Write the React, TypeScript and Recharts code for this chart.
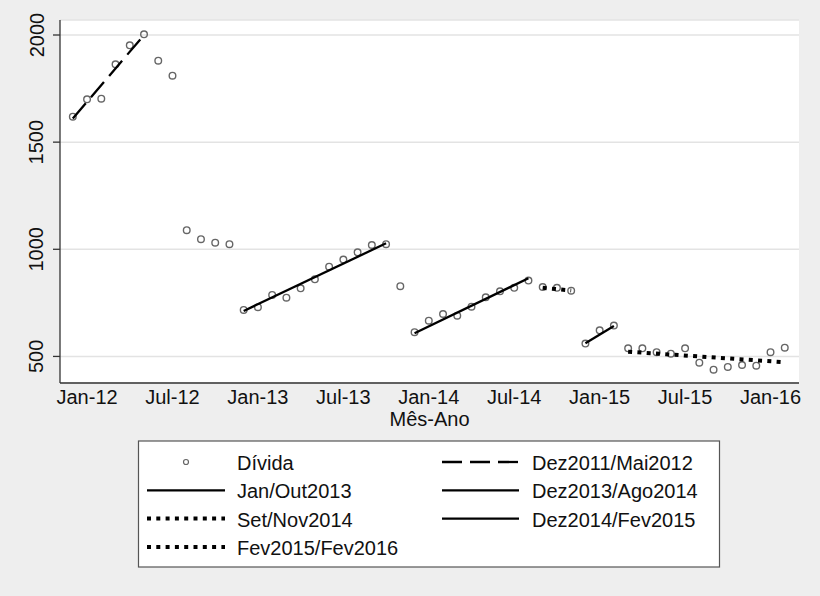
import React from 'react'
import {
  ComposedChart,
  Scatter,
  XAxis,
  YAxis,
  CartesianGrid,
} from 'recharts'

// Dívida mensal, Dez 2011 ... Fev 2016 (one value per month)
const divida = [
  1619, 1700, 1703, 1863, 1952, 2003, 1880, 1810, 1089, 1047, 1031, 1024,
  717, 730, 787, 774, 818, 860, 919, 952, 986, 1020, 1024, 828,
  613, 667, 698, 690, 732, 776, 804, 820, 854, 824, 820, 807,
  560, 622, 644, 538, 538, 520, 513, 538, 471, 438, 451, 460, 457, 520, 541,
]

const tickMonths = [1, 7, 13, 19, 25, 31, 37, 43, 49]
const tickLabels = ['Jan-12', 'Jul-12', 'Jan-13', 'Jul-13', 'Jan-14', 'Jul-14', 'Jan-15', 'Jul-15', 'Jan-16']
const yTicks = [500, 1000, 1500, 2000]

// fitted segments: first/last month index and fitted value there
const fitNames = ['Dez2011/Mai2012', 'Jan/Out2013', 'Dez2013/Ago2014', 'Set/Nov2014', 'Dez2014/Fev2015', 'Fev2015/Fev2016']
const fitMonths = [[0, 5], [12, 22], [24, 32], [33, 35], [36, 38], [39, 50]]
const fitValues = [[1610, 2000], [712, 1028], [608, 865], [820, 808], [562, 642], [522, 473]]

const FONT = '"Liberation Sans", Arial, Helvetica, sans-serif'
const DASHED = { strokeDasharray: '20 8', strokeWidth: 2.3 }
const SOLID = { strokeWidth: 2.3 }
const DOTTED = { strokeDasharray: '4 5.3', strokeWidth: 4 }
const fitStyles = [DASHED, SOLID, SOLID, DOTTED, SOLID, DOTTED]

const points = divida.map((v, i) => ({ t: i, v }))
const fits = fitMonths.map((m, i) => [
  { t: m[0], v: fitValues[i][0] },
  { t: m[1], v: fitValues[i][1] },
])

const XTick = (props: any) => {
  const idx = tickMonths.indexOf(props.payload.value)
  return (
    <text x={props.x} y={404} textAnchor="middle" fontSize={20} fill="#111" fontFamily={FONT}>
      {tickLabels[idx]}
    </text>
  )
}

const YTick = (props: any) => (
  <text
    x={43.5}
    y={props.y}
    transform={`rotate(-90 43.5 ${props.y})`}
    textAnchor="middle"
    fontSize={20}
    fill="#111"
    fontFamily={FONT}
  >
    {props.payload.value}
  </text>
)

const Circle = (props: any) => (
  <circle cx={props.cx} cy={props.cy} r={3.3} fill="none" stroke="#666" strokeWidth={1.4} />
)

const NoShape = () => <g />

// legend layout: [name, kind] in Stata order, two columns
const legendItems = [
  { name: 'Dívida', kind: 'point' },
  { name: fitNames[0], kind: 'dashed' },
  { name: fitNames[1], kind: 'solid' },
  { name: fitNames[2], kind: 'solid' },
  { name: fitNames[3], kind: 'dotted' },
  { name: fitNames[4], kind: 'solid' },
  { name: fitNames[5], kind: 'dotted' },
]

function LegendBox() {
  const colSym = [[147, 225], [442, 519]]
  const colText = [237, 532]
  return (
    <svg width={820} height={596} style={{ position: 'absolute', left: 0, top: 0 }}>
      <rect x={138.5} y={441} width={581} height={126} fill="#fff" stroke="#555" strokeWidth={1.2} />
      {legendItems.map((it, i) => {
        const col = i % 2
        const row = Math.floor(i / 2)
        const base = 470 + row * 28.3
        const sy = base - 8
        const [a, b] = colSym[col]
        let sym: React.ReactNode = null
        if (it.kind === 'point') {
          sym = <circle cx={(a + b) / 2} cy={sy} r={2.5} fill="none" stroke="#666" strokeWidth={1.2} />
        } else {
          const st = it.kind === 'dashed' ? DASHED : it.kind === 'dotted' ? DOTTED : SOLID
          sym = <line x1={a} x2={b} y1={sy} y2={sy} stroke="#000" {...st} />
        }
        return (
          <g key={it.name}>
            {sym}
            <text x={colText[col]} y={base} fontSize={20} fill="#111" fontFamily={FONT}>
              {it.name}
            </text>
          </g>
        )
      })}
    </svg>
  )
}

export default function App() {
  return (
    <div style={{ position: 'fixed', left: 0, top: 0, width: 820, height: 596, background: '#eeeeee' }}>
      <ComposedChart width={820} height={440} margin={{ top: 20, right: 21, left: 0, bottom: 0 }}>
        <CartesianGrid vertical={false} fill="#ffffff" stroke="#e3e3e3" strokeWidth={1.5} />
        <XAxis
          type="number"
          dataKey="t"
          domain={[-0.9, 51]}
          ticks={tickMonths}
          interval={0}
          allowDataOverflow
          tick={<XTick />}
          tickLine={false}
          axisLine={{ stroke: '#333', strokeWidth: 1.3 }}
          height={57}
          label={{ value: 'Mês-Ano', position: 'insideBottom', offset: 14, fontSize: 20, fill: '#111', fontFamily: FONT }}
        />
        <YAxis
          type="number"
          dataKey="v"
          domain={[376, 2070]}
          ticks={yTicks}
          interval={0}
          allowDataOverflow
          width={60}
          tick={<YTick />}
          tickSize={7}
          tickLine={{ stroke: '#333', strokeWidth: 1.3 }}
          axisLine={{ stroke: '#333', strokeWidth: 1.3 }}
        />
        <Scatter data={points} shape={<Circle />} isAnimationActive={false} />
        {fits.map((f, i) => (
          <Scatter
            key={fitNames[i]}
            data={f}
            shape={<NoShape />}
            line={{ stroke: '#000', ...fitStyles[i] }}
            lineType="joint"
            isAnimationActive={false}
          />
        ))}
      </ComposedChart>
      <LegendBox />
    </div>
  )
}
